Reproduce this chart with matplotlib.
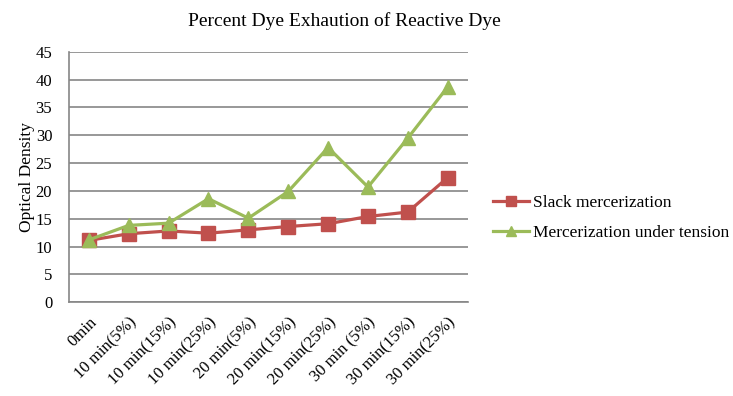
import matplotlib
matplotlib.use("Agg")
import matplotlib.pyplot as plt

plt.rcParams['font.family'] = ['Liberation Serif', 'DejaVu Serif']

categories = ["0min", "10 min(5%)", "10 min(15%)", "10 min(25%)", "20 min(5%)",
              "20 min(15%)", "20 min(25%)", "30 min (5%)", "30 min(15%)", "30 min(25%)"]
slack = [11.1, 12.3, 12.8, 12.4, 13.0, 13.6, 14.1, 15.4, 16.2, 22.4]
tension = [11.2, 13.8, 14.2, 18.6, 15.1, 19.9, 27.8, 20.7, 29.5, 38.7]
yticks = [0, 5, 10, 15, 20, 25, 30, 35, 40, 45]

fig = plt.figure(figsize=(7.33, 3.96), dpi=100)
ax = fig.add_axes([0.094, 0.237, 0.544, 0.632])

x = list(range(len(categories)))
ax.plot(x, slack, color='#C0504D', lw=2.3, marker='s', ms=10.5, label='Slack mercerization', zorder=3)
ax.plot(x, tension, color='#9BBB59', lw=2.3, marker='^', ms=10.5, label='Mercerization under tension', zorder=3)

ax.set_xlim(-0.5, len(categories) - 0.5)
ax.set_ylim(0, 45)
ax.set_yticks(yticks)
ax.set_yticklabels([str(v) for v in yticks], fontsize=12)
ax.yaxis.grid(True, color='#868686', lw=1.2)
ax.set_axisbelow(True)
ax.set_xticks(x)
ax.set_xticklabels(categories, rotation=45, ha='right', rotation_mode='anchor', fontsize=12)
ax.tick_params(axis='y', length=0, pad=12)
ax.tick_params(axis='x', length=0, pad=9)
for s in ['top', 'right']:
    ax.spines[s].set_visible(False)
ax.spines['left'].set_color('#868686')
ax.spines['bottom'].set_color('#868686')
ax.spines['left'].set_linewidth(1.2)
ax.spines['bottom'].set_linewidth(1.2)

ax.set_ylabel('Optical Density', fontsize=12.5, labelpad=0)
fig.text(0.47, 0.948, 'Percent Dye Exhaution of Reactive Dye', ha='center', va='center', fontsize=14)

leg = ax.legend(loc='center left', bbox_to_anchor=(493 / 733, 1 - 218 / 396),
                bbox_transform=fig.transFigure, frameon=False, fontsize=12.5,
                handlelength=2.1, handletextpad=0.2, labelspacing=0.75,
                borderpad=0, borderaxespad=0)
for h in leg.legend_handles:
    h.set_markersize(7)

fig.savefig('out.png', dpi=100)
